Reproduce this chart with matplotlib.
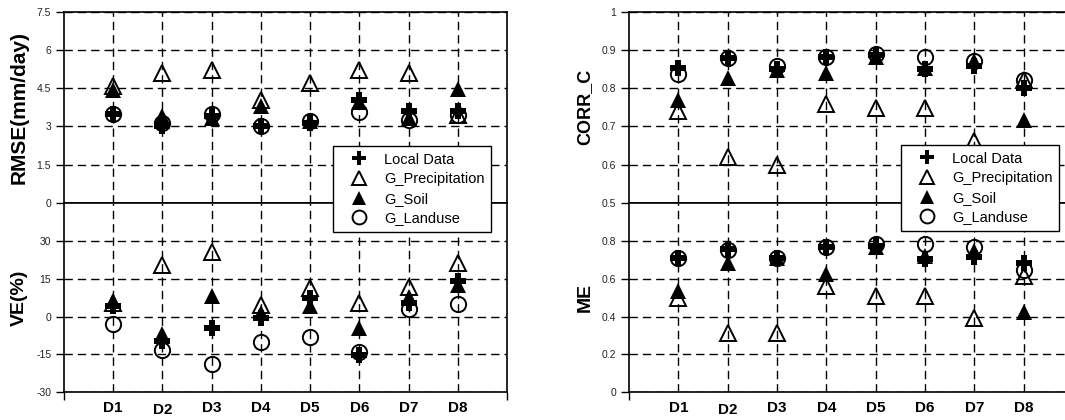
import matplotlib
matplotlib.use("Agg")
import matplotlib.pyplot as plt
from matplotlib.lines import Line2D

plt.rcParams['font.family'] = ['Liberation Sans', 'DejaVu Sans']

stations = ["D1", "D2", "D3", "D4", "D5", "D6", "D7", "D8"]
series_names = ["Local Data", "G_Precipitation", "G_Soil", "G_Landuse"]

rmse_local = [3.50, 3.00, 3.40, 3.03, 3.15, 4.05, 3.60, 3.62]
rmse_precip = [4.58, 5.09, 5.22, 4.02, 4.70, 5.20, 5.11, 3.45]
rmse_soil = [4.42, 3.42, 3.33, 3.78, 3.22, 3.95, 3.33, 4.46]
rmse_land = [3.50, 3.15, 3.50, 3.00, 3.22, 3.55, 3.24, 3.45]

ve_local = [4.2, -9.5, -4.7, -0.4, 7.4, -15.4, 5.5, 14.0]
ve_precip = [5.5, 20.5, 25.7, 4.5, 11.4, 5.5, 11.7, 21.1]
ve_soil = [6.1, -6.9, 8.1, 1.5, 4.0, -4.7, 7.6, 12.7]
ve_land = [-3.0, -13.2, -18.6, -9.9, -8.2, -14.1, 3.1, 4.9]

corr_local = [0.852, 0.878, 0.850, 0.880, 0.887, 0.849, 0.857, 0.800]
corr_precip = [0.739, 0.620, 0.600, 0.758, 0.748, 0.748, 0.661, 0.820]
corr_soil = [0.770, 0.826, 0.848, 0.839, 0.882, 0.852, 0.870, 0.717]
corr_land = [0.836, 0.878, 0.858, 0.880, 0.890, 0.880, 0.871, 0.820]

me_local = [0.708, 0.756, 0.708, 0.765, 0.775, 0.703, 0.715, 0.685]
me_precip = [0.500, 0.315, 0.315, 0.560, 0.510, 0.508, 0.395, 0.614]
me_soil = [0.535, 0.685, 0.708, 0.623, 0.770, 0.720, 0.745, 0.423]
me_land = [0.708, 0.752, 0.712, 0.770, 0.782, 0.782, 0.765, 0.648]

rmse_ticks = [0, 1.5, 3, 4.5, 6, 7.5]
rmse_ticklabels = ["0", "1.5", "3", "4.5", "6", "7.5"]
ve_ticks = [-30, -15, 0, 15, 30]
corr_ticks = [0.5, 0.6, 0.7, 0.8, 0.9, 1.0]
corr_ticklabels = ["0.5", "0.6", "0.7", "0.8", "0.9", "1"]
me_ticks = [0, 0.2, 0.4, 0.6, 0.8]
me_ticklabels = ["0", "0.2", "0.4", "0.6", "0.8"]

W, H = 1065, 420
fig = plt.figure(figsize=(W / 100, H / 100), dpi=100)

def ax_at(x0, x1, y0, y1):
    return fig.add_axes([x0 / W, 1 - y1 / H, (x1 - x0) / W, (y1 - y0) / H])

x = list(range(1, 9))
MS = 11
styles = [
    dict(marker='P', color='black', markersize=MS, markeredgewidth=0, linestyle='none'),
    dict(marker='^', markerfacecolor='none', markeredgecolor='black', markersize=MS, markeredgewidth=1.4, linestyle='none'),
    dict(marker='^', color='black', markersize=MS, markeredgewidth=0, linestyle='none'),
    dict(marker='o', markerfacecolor='none', markeredgecolor='black', markersize=MS, markeredgewidth=1.4, linestyle='none'),
]

dash = (0, (6, 3.6))

def setup(ax, ylim, ticks, ticklabels, ylabel, bottom, lsize):
    ax.set_xlim(0, 9)
    ax.set_ylim(*ylim)
    ax.set_yticks(ticks)
    ax.set_yticklabels(ticklabels)
    ax.tick_params(axis='y', direction='out', length=6, width=1, labelsize=7.5,
                   labelcolor='#222222', pad=3)
    ax.set_xticks(x)
    ax.set_xticklabels([])
    ax.tick_params(axis='x', which='major', length=0)
    if bottom:
        ax.set_xticks([0, 9], minor=True)
        ax.tick_params(axis='x', which='minor', direction='out', length=6, width=1)
    ax.grid(True, which='major', axis='both', color='black', linestyle=dash, linewidth=1.0)
    for s in ax.spines.values():
        s.set_linewidth(1.2)
        s.set_color('black')
    ax.set_ylabel(ylabel, fontsize=lsize, fontweight='bold')
    ax.yaxis.set_label_coords(-0.08, 0.5)
    ax.set_axisbelow(True)

def plot_series(ax, data):
    for vals, st in zip(data, styles):
        ax.plot(x, vals, clip_on=False, zorder=3, **st)

# Left panel
axL1 = ax_at(63.7, 507.3, 11.5, 203)
axL2 = ax_at(63.7, 507.3, 203, 392.3)
setup(axL1, (0, 7.5), rmse_ticks, rmse_ticklabels, "RMSE(mm/day)", False, 15)
setup(axL2, (-30, 45), ve_ticks, [str(t) for t in ve_ticks], "VE(%)", True, 14)
plot_series(axL1, [rmse_local, rmse_precip, rmse_soil, rmse_land])
plot_series(axL2, [ve_local, ve_precip, ve_soil, ve_land])

# Right panel
axR1 = ax_at(629, 1073, 11.5, 203)
axR2 = ax_at(629, 1073, 203, 392.3)
setup(axR1, (0.5, 1.0), corr_ticks, corr_ticklabels, "CORR_C", False, 13)
setup(axR2, (0, 1.0), me_ticks, me_ticklabels, "ME", True, 14)
plot_series(axR1, [corr_local, corr_precip, corr_soil, corr_land])
plot_series(axR2, [me_local, me_precip, me_soil, me_land])

# Station labels
for ax in (axL2, axR2):
    trans = matplotlib.transforms.blended_transform_factory(ax.transData, fig.transFigure)
    for i, name in enumerate(stations):
        ytop = 403 if name == "D2" else 401
        ax.text(i + 1, 1 - ytop / H, name, transform=trans, ha='center', va='top',
                fontsize=11, fontweight='bold')

# Legends
handles = [Line2D([], [], **dict(st, markersize=10)) for st in styles]
for lx, ly in [(333, 146), (901, 145)]:
    leg = fig.legend(handles, series_names, loc='upper left',
                     bbox_to_anchor=(lx / W, 1 - ly / H), borderaxespad=0,
                     frameon=True, fancybox=False, framealpha=1, edgecolor='black',
                     fontsize=10.5, handlelength=2.7, handletextpad=0.35,
                     borderpad=0.45, labelspacing=0.38)
    leg.get_frame().set_linewidth(1.0)

fig.savefig("out.png", dpi=100)
